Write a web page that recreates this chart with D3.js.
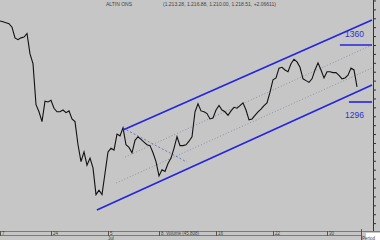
<!DOCTYPE html>
<html><head><meta charset="utf-8">
<script src="https://cdn.jsdelivr.net/npm/d3@7"></script>
<style>
html,body{margin:0;padding:0;background:#c6c6c6;overflow:hidden}
svg{display:block}
</style></head>
<body>
<svg id="c" width="380" height="240"></svg>
<script>
// ---- data ----
const title = "ALTIN ONS";
const ohlcText = "(1.213.28, 1.216.88, 1.210.00, 1.218.51, +2.06611)";
// closing prices, one per bar
const closes = [1387,1386,1385,1384,1380,1368,1366,1368,1369,1373,
1350,1339,1293,1285,1274,1297,1296,1298,1289,1285,
1285,1287,1284,1286,1277,1274,1248,1229,1240,1225,
1233,1222,1192,1197,1192,1216,1240,1244,1242,1260,
1258,1267,1248,1245,1239,1253,1257,1254,1251,1248,
1247,1239,1229,1213,1220,1218,1227,1233,1244,1257,
1247,1247,1248,1252,1257,1285,1294,1286,1285,1283,
1277,1278,1287,1292,1287,1285,1281,1286,1290,1289,
1292,1295,1287,1276,1277,1281,1285,1288,1292,1295,
1307,1321,1323,1334,1335,1332,1330,1339,1344,1341,
1335,1322,1320,1318,1322,1332,1340,1332,1323,1330,
1330,1329,1329,1326,1322,1323,1326,1334,1332,1313];
// channel lines [startBar, startPrice, endBar, endPrice]
const channelUpper = [41, 1264.6, 124, 1388.1];
const channelLower = [32.3, 1174.7, 124, 1315.1];
const dottedUpper = [41.7, 1234.2, 124, 1360];
const dottedLower = [38.7, 1205.0, 124, 1334.2];
const dashedDown = [41, 1266.8, 62.3, 1228.6];
// horizontal levels [level, startBar, endBar]
const levels = [[1360, 113.3, 124], [1296, 116.3, 124]];
const levelLabels = ["1360", "1296"];
// bottom date axis
const dateTickBars = [0, 17, 36, 53, 72, 91, 109];
const dateTickLabels = ["7", "24", "5", "8. Volume (45,808)", "16", "22", "30"];
const monthLabel = "Jul";
const monthBar = 36;
const priceTicks = d3.range(1160, 1420, 10);

// ---- scales ----
const x = d3.scaleLinear().domain([0, 124.33]).range([0, 373]);
const y = d3.scaleLinear().domain([1296, 1360]).range([102, 45]);
const axisBar = 124.33;

const svg = d3.select("#c");
svg.append("rect").attr("width",380).attr("height",240).attr("fill","#c6c6c6");

// title
svg.append("text").attr("x",106).attr("y",6).attr("font-family","Liberation Sans, Arial, sans-serif")
  .attr("font-size",5).attr("fill","#444").text(title);
svg.append("text").attr("x",163).attr("y",6).attr("font-family","Liberation Sans, Arial, sans-serif")
  .attr("font-size",5).attr("fill","#444").text(ohlcText);

const seg = (a, cls) => svg.append("line")
  .attr("x1", x(a[0])).attr("y1", y(a[1])).attr("x2", x(a[2])).attr("y2", y(a[3]));

// dotted guide lines
seg(dottedUpper).attr("stroke","#8a8aa8").attr("stroke-width",0.9).attr("stroke-dasharray","1,2");
seg(dottedLower).attr("stroke","#8a8aa8").attr("stroke-width",0.9).attr("stroke-dasharray","1,2");
seg(dashedDown).attr("stroke","#6a6ab8").attr("stroke-width",0.9).attr("stroke-dasharray","2,2");

// price line
svg.append("path").datum(closes)
  .attr("fill","none").attr("stroke","#111").attr("stroke-width",1.1).attr("stroke-linejoin","miter")
  .attr("d", d3.line().x((d,i)=>x(i)).y(d=>y(d)));

// channel
seg(channelUpper).attr("stroke","#2424e0").attr("stroke-width",1.6);
seg(channelLower).attr("stroke","#2424e0").attr("stroke-width",1.6);

// horizontal levels + labels
levels.forEach((l,i)=>{
  svg.append("line").attr("x1",x(l[1])).attr("x2",x(l[2])).attr("y1",y(l[0])).attr("y2",y(l[0]))
    .attr("stroke","#2424e0").attr("stroke-width",1.6);
});
svg.append("text").attr("x",x(115)).attr("y",y(1360)-8).attr("font-family","Liberation Sans, Arial, sans-serif")
  .attr("font-size",8.5).attr("fill","#3030c8").text(levelLabels[0]);
svg.append("text").attr("x",x(115)).attr("y",y(1296)+16).attr("font-family","Liberation Sans, Arial, sans-serif")
  .attr("font-size",8.5).attr("fill","#3030c8").text(levelLabels[1]);

// right price axis
const yAxis = d3.axisRight(y).tickValues(priceTicks).tickSize(3).tickFormat("");
const gy = svg.append("g").attr("transform",`translate(${x(axisBar)},0)`).call(yAxis);
gy.select(".domain").remove();
gy.selectAll(".tick line").attr("stroke","#333");
svg.append("line").attr("x1",x(axisBar)+0.5).attr("x2",x(axisBar)+0.5).attr("y1",0).attr("y2",231)
  .attr("stroke","#333").attr("stroke-width",1);

// bottom date band
svg.append("line").attr("x1",0).attr("x2",380).attr("y1",231.5).attr("y2",231.5).attr("stroke","#7a7a7a");
svg.append("line").attr("x1",0).attr("x2",361).attr("y1",235.5).attr("y2",235.5).attr("stroke","#7a7a7a");
const gx = svg.append("g");
dateTickBars.forEach((b,i)=>{
  gx.append("line").attr("x1",x(b)+0.5).attr("x2",x(b)+0.5).attr("y1",231).attr("y2",236).attr("stroke","#555");
  gx.append("text").attr("x",x(b)+2).attr("y",235).attr("font-family","Liberation Sans, Arial, sans-serif")
    .attr("font-size",4.5).attr("fill","#444").text(dateTickLabels[i]);
});
svg.append("text").attr("x",x(monthBar)).attr("y",240).attr("font-family","Liberation Sans, Arial, sans-serif")
  .attr("font-size",4.5).attr("fill","#444").text(monthLabel);
svg.append("line").attr("x1",361.5).attr("x2",361.5).attr("y1",229).attr("y2",240).attr("stroke","#555");
svg.append("rect").attr("x",366).attr("y",233).attr("width",14).attr("height",7).attr("fill","#fff");
svg.append("text").attr("x",362).attr("y",239.5).attr("font-family","Liberation Sans, Arial, sans-serif")
  .attr("font-size",4.5).attr("fill","#444").text("Period");
</script>
</body></html>
